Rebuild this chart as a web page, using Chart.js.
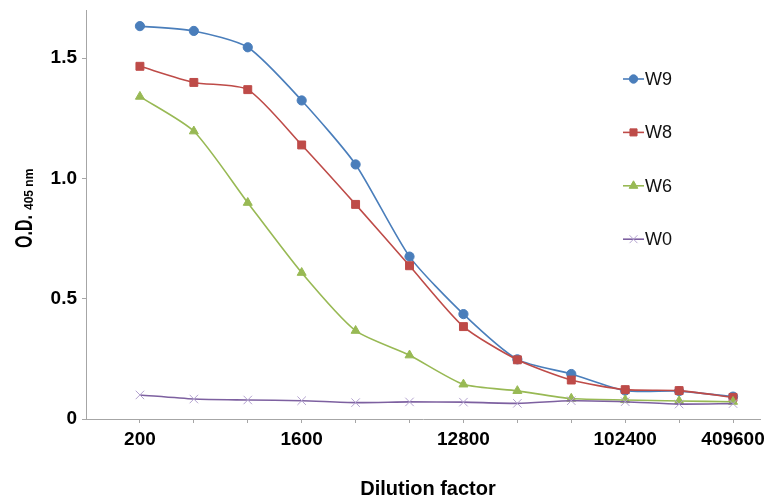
<!DOCTYPE html>
<html>
<head>
<meta charset="utf-8">
<script src="https://cdn.jsdelivr.net/npm/chart.js@4.4.1/dist/chart.umd.min.js"></script>
<style>
  html, body { margin: 0; padding: 0; background: #ffffff; }
  #wrap { width: 772px; height: 503px; }
</style>
</head>
<body>
<div id="wrap"><canvas id="c" width="772" height="503"></canvas></div>
<script>
// ---- data ----
const dilutions = [200, 400, 800, 1600, 3200, 6400, 12800, 25600, 51200, 102400, 204800, 409600];
const xTickLabels = ['200', '1600', '12800', '102400', '409600'];
const yTicks = [0, 0.5, 1.0, 1.5];
const yTickLabels = ['0', '0.5', '1.0', '1.5'];
const seriesNames = ['W9', 'W8', 'W6', 'W0'];
const W9 = [1.633, 1.613, 1.545, 1.324, 1.058, 0.675, 0.436, 0.248, 0.187, 0.118, 0.116, 0.093];
const W8 = [1.466, 1.399, 1.369, 1.139, 0.892, 0.637, 0.384, 0.246, 0.162, 0.122, 0.118, 0.090];
const W6 = [1.340, 1.196, 0.899, 0.608, 0.367, 0.265, 0.144, 0.117, 0.085, 0.079, 0.075, 0.072];
const W0 = [0.100, 0.083, 0.079, 0.076, 0.068, 0.071, 0.070, 0.065, 0.076, 0.072, 0.062, 0.064];

// ---- styles ----
const styles = [
  { line: '#4a7ebb', fill: '#4a7ebb', pointStyle: 'circle',   radius: 4.6, legendRadius: 4.2, bw: 1 },
  { line: '#be4b48', fill: '#be4b48', pointStyle: 'rect',     radius: 5.6, legendRadius: 5.0, bw: 1 },
  { line: '#98b954', fill: '#98b954', pointStyle: 'triangle', radius: 5.2, legendRadius: 5.0, bw: 1 },
  { line: '#7d60a0', fill: '#b3a2cf', pointStyle: 'crossRot', radius: 6.0, legendRadius: 5.6, bw: 1 }
];
const values = [W9, W8, W6, W0];

const datasets = values.map((vals, i) => ({
  label: seriesNames[i],
  data: vals.map((v, k) => ({ x: dilutions[k], y: v })),
  borderColor: styles[i].line,
  backgroundColor: styles[i].fill,
  pointBackgroundColor: styles[i].fill,
  pointBorderColor: styles[i].pointStyle === 'crossRot' ? styles[i].fill : styles[i].line,
  pointBorderWidth: styles[i].bw,
  pointStyle: styles[i].pointStyle,
  pointRadius: styles[i].radius,
  pointHoverRadius: styles[i].radius,
  borderWidth: 1.6,
  tension: 0.22,
  fill: false,
  order: 4 - i
}));

const axisColor = '#a6a6a6';

const extras = {
  id: 'extras',
  afterDraw(chart) {
    const ctx = chart.ctx;
    ctx.save();
    // x title
    ctx.fillStyle = '#000000';
    ctx.font = 'bold 20px "Liberation Sans", Arial, sans-serif';
    ctx.textAlign = 'center';
    ctx.textBaseline = 'middle';
    ctx.fillText('Dilution factor', 428, 489);
    // y title (rotated) with subscript
    ctx.save();
    ctx.translate(32, 248);
    ctx.rotate(-Math.PI / 2);
    ctx.textAlign = 'left';
    ctx.textBaseline = 'alphabetic';
    ctx.save();
    ctx.scale(0.8, 1.15);
    ctx.font = 'bold 20px "Liberation Sans", Arial, sans-serif';
    ctx.fillText('O.D.', 0, 0);
    ctx.restore();
    ctx.font = 'bold 12px "Liberation Sans", Arial, sans-serif';
    ctx.fillText('405 nm', 38, 0.5);
    ctx.restore();
    // legend
    for (let i = 0; i < seriesNames.length; i++) {
      const y = 79 + 53.4 * i;
      const st = styles[i];
      ctx.strokeStyle = st.line;
      ctx.lineWidth = 1.6;
      ctx.beginPath();
      ctx.moveTo(623, y);
      ctx.lineTo(644, y);
      ctx.stroke();
      ctx.fillStyle = st.fill;
      ctx.strokeStyle = st.pointStyle === 'crossRot' ? st.fill : st.line;
      ctx.lineWidth = 1;
      Chart.helpers.drawPoint(ctx, { pointStyle: st.pointStyle, radius: st.legendRadius, rotation: 0, borderWidth: 1 }, 633.5, y);
      ctx.fillStyle = '#111111';
      ctx.font = '18px "Liberation Sans", Arial, sans-serif';
      ctx.textAlign = 'left';
      ctx.textBaseline = 'middle';
      ctx.fillText(seriesNames[i], 645, y + 1);
    }
    ctx.restore();
  }
};

new Chart(document.getElementById('c'), {
  type: 'line',
  data: { datasets },
  options: {
    responsive: false,
    animation: false,
    events: [],
    layout: { padding: { left: 0, top: 10, right: 12, bottom: 0 } },
    plugins: { legend: { display: false }, tooltip: { enabled: false } },
    scales: {
      x: {
        type: 'logarithmic',
        min: 100,
        max: 200 * Math.pow(2, 11.5),
        afterBuildTicks(scale) { scale.ticks = dilutions.map(v => ({ value: v })); },
        afterFit(scale) { scale.height = 84; scale.paddingLeft = 0; scale.paddingRight = 0; },
        border: { display: true, color: axisColor, width: 1 },
        grid: { display: true, drawOnChartArea: false, drawTicks: true, tickLength: 4, color: axisColor },
        ticks: {
          autoSkip: false, maxRotation: 0, minRotation: 0, padding: 5,
          color: '#000000',
          font: { family: '"Liberation Sans", Arial, sans-serif', size: 19, weight: 'bold' },
          callback(value) { const s = String(value); return xTickLabels.includes(s) ? s : ''; }
        }
      },
      y: {
        min: 0,
        max: 1.7,
        afterBuildTicks(scale) { scale.ticks = yTicks.map(v => ({ value: v })); },
        afterFit(scale) { scale.width = 86; scale.paddingTop = 0; scale.paddingBottom = 0; },
        border: { display: true, color: axisColor, width: 1 },
        grid: { display: true, drawOnChartArea: false, drawTicks: true, tickLength: 4, color: axisColor },
        ticks: {
          padding: 5,
          color: '#000000',
          font: { family: '"Liberation Sans", Arial, sans-serif', size: 19, weight: 'bold' },
          callback(value) { const k = yTicks.indexOf(value); return k >= 0 ? yTickLabels[k] : ''; }
        }
      }
    }
  },
  plugins: [extras]
});
</script>
</body>
</html>
